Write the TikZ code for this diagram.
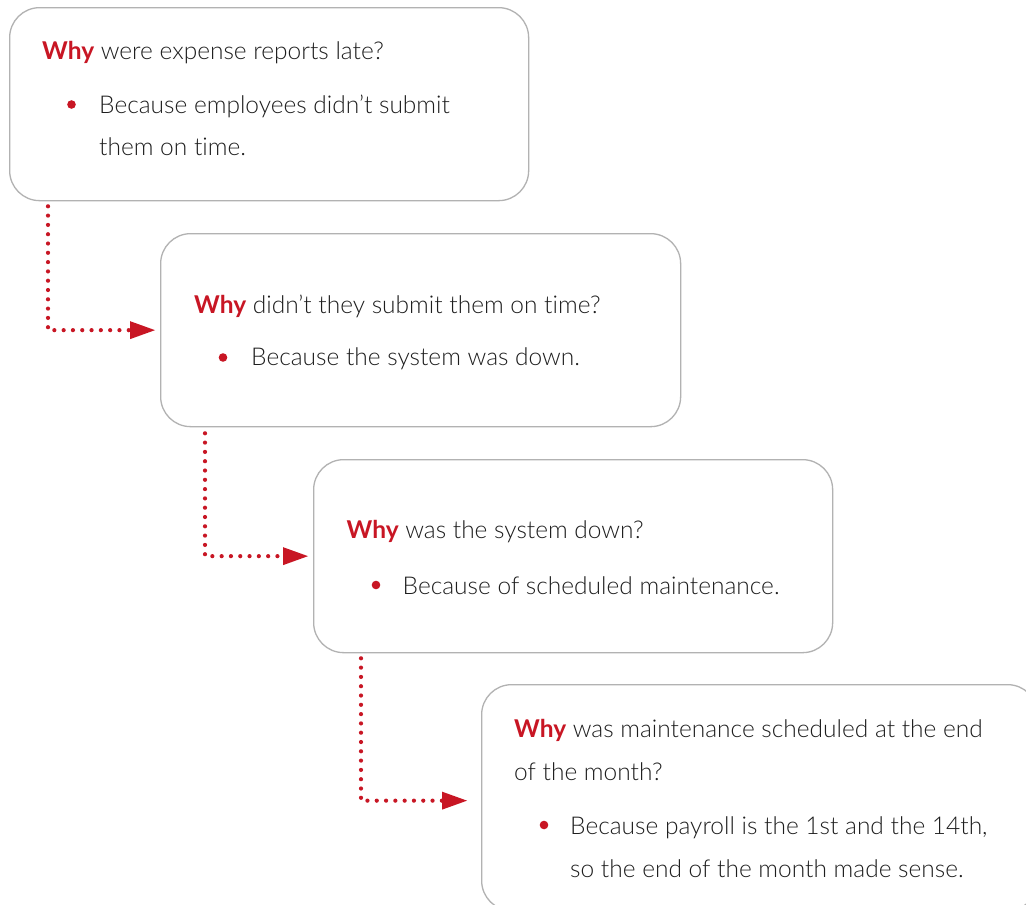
\documentclass[tikz,border=0pt]{standalone}
\usepackage{fontspec}
\setmainfont{Lato}[UprightFont={* Light},BoldFont={* Bold},RawFeature={-liga}]
\usetikzlibrary{arrows.meta,calc}

\definecolor{whyred}{RGB}{200,22,36}
\definecolor{ink}{RGB}{30,30,30}
\definecolor{framegray}{RGB}{178,178,178}

\newcommand\whyword{{\bfseries\color{whyred}Why}}

\tikzset{
  whybox/.style={draw=framegray, line width=1.3pt, rounded corners=30pt,
    anchor=north west, inner sep=0pt, fill=white},
  txtline/.style={anchor=base west, inner sep=0pt, text=ink,
    font=\fontsize{24.5}{29}\selectfont},
  dotbullet/.style={circle, fill=whyred, inner sep=0pt, minimum size=8.6pt},
  chain/.style={draw=whyred, line width=4.2pt, line cap=round,
    dash pattern=on 0pt off 9.3pt,
    -{Triangle[length=25pt,width=18pt,line width=0pt]}, shorten >=5pt},
}

\begin{document}
\begin{tikzpicture}[x=1pt,y=-1pt]
  \path[fill=white] (0,0) rectangle (1026,905);
  \useasboundingbox (0,0) rectangle (1026,905);
  \clip (0,0) rectangle (1026,905);

  % the four question boxes
  \node[whybox, minimum width=519pt, minimum height=193pt] (b1) at (9,7) {};
  \node[whybox, minimum width=520pt, minimum height=193pt] (b2) at (160,233) {};
  \node[whybox, minimum width=519pt, minimum height=193pt] (b3) at (313,459) {};
  \node[whybox, minimum width=556pt, minimum height=226pt] (b4) at (481,684) {};

  % box 1
  \node[txtline] (q1) at (42,59.5) {\whyword{} were expense reports late?};
  \node[dotbullet] (d1) at (71.5,104.5) {};
  \node[txtline] (a1a) at (99,113) {Because employees didn’t submit};
  \node[txtline] (a1b) at (99,155.5) {them on time.};

  % box 2
  \node[txtline] (q2) at (194,313) {\whyword{} didn’t they submit them on time?};
  \node[dotbullet] (d2) at (223,357.5) {};
  \node[txtline] (a2) at (251,365.5) {Because the system was down.};

  % box 3
  \node[txtline] (q3) at (346.5,538) {\whyword{} was the system down?};
  \node[dotbullet] (d3) at (376,585) {};
  \node[txtline] (a3) at (402.5,594) {Because of scheduled maintenance.};

  % box 4
  \node[txtline] (q4a) at (514,737) {\whyword{} was maintenance scheduled at the end};
  \node[txtline] (q4b) at (514,780) {of the month?};
  \node[dotbullet] (d4) at (544,825) {};
  \node[txtline] (a4a) at (570,834) {Because payroll is the 1st and the 14th,};
  \node[txtline] (a4b) at (570,877) {so the end of the month made sense.};

  % dotted elbow connectors
  \coordinate (s1) at ($(b1.south west)+(39,5)$);
  \coordinate (s2) at ($(b2.south west)+(45,6)$);
  \coordinate (s3) at ($(b3.south west)+(48,5)$);
  \draw[chain] (s1) |- (b2.west);
  \draw[chain] (s2) |- (b3.west);
  \draw[chain, shorten >=14pt] (s3) |- ($(b4.west)+(0,3)$);
\end{tikzpicture}
\end{document}
